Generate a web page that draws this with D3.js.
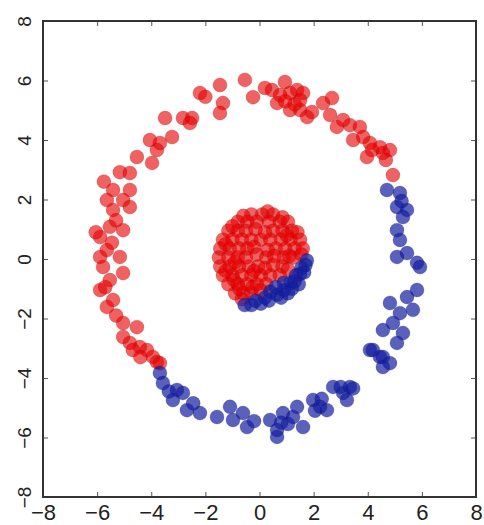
<!DOCTYPE html>
<html>
<head>
<meta charset="utf-8">
<script src="https://cdn.jsdelivr.net/npm/d3@7"></script>
<style>
body {
    margin: 0;
    background: #fff;
}
svg {
    display: block;
}
.tick text {
    font-family: "Liberation Sans", Arial, sans-serif;
    fill: #222;
}
</style>
</head>
<body>
<svg></svg>
<script>

const width = 484, height = 525;
const margin = {top: 21, right: 8, bottom: 28, left: 43};

// tick values on both axes
const xTicks = [-8, -6, -4, -2, 0, 2, 4, 6, 8];
const yTicks = [-8, -6, -4, -2, 0, 2, 4, 6, 8];

// outer ring, red part (x, y)
const redOuter = [
    [-3.79, 3.66], [-3.49, 4.74], [-3.23, 4.10], [-2.83, 4.74], [-2.49, 4.74],
    [-2.20, 5.58], [-1.46, 5.85], [-1.35, 5.24], [-1.46, 4.91], [-0.54, 6.02],
    [-0.24, 5.44], [0.46, 5.68], [0.65, 5.24], [0.94, 5.95], [1.13, 5.58],
    [1.39, 5.68], [1.61, 5.58], [1.50, 5.01], [1.13, 5.01], [1.76, 4.77],
    [2.35, 5.24], [2.68, 5.41], [2.61, 4.84], [2.86, 4.44], [3.34, 4.50],
    [3.71, 4.44], [3.83, 4.10], [3.46, 4.00], [4.08, 3.90], [4.45, 3.76],
    [4.56, 3.56], [4.82, 3.66], [3.97, 3.43], [4.93, 2.82], [0.76, 5.51],
    [1.50, 5.34], [1.94, 4.94], [3.09, 4.67], [0.20, 5.75], [4.16, 3.66],
    [4.67, 3.33], [-2.00, 5.45],
    [-2.57, 4.57], [-4.05, 4.00], [-3.68, 3.90], [-4.53, 3.43], [-3.97, 3.23],
    [-5.16, 2.92], [-4.79, 2.89], [-5.41, 2.32], [-4.79, 2.32], [-5.64, 1.98],
    [-5.04, 1.98], [-4.79, 1.75], [-5.41, 1.65], [-5.53, 1.08], [-5.89, 0.74],
    [-5.04, 0.97], [-5.64, 0.30], [-5.89, 0.07], [-5.16, 0.07], [-5.78, -0.27],
    [-5.04, -0.47], [-5.53, -0.71], [-5.89, -1.04], [-5.41, -1.38], [-5.64, -1.61],
    [-5.04, -2.15], [-4.53, -2.29], [-5.04, -2.62], [-4.79, -2.82], [-4.42, -2.96],
    [-4.16, -3.06], [-3.94, -3.29], [-3.68, -3.50], [-4.68, -3.06], [-3.79, -3.46],
    [-6.05, 0.90], [-5.75, 2.60], [-5.30, -1.90], [-4.40, -3.30],
    [-5.45, 0.55], [-5.30, 1.30], [-5.70, -0.95], [0.95, 5.30], [1.30, 5.20]
];

// outer ring, blue part
const blueOuter = [
    [-3.68, -3.83], [-3.57, -4.17], [-3.05, -4.40], [-3.20, -4.74], [-2.83, -4.50],
    [-2.68, -5.08], [-2.20, -5.18], [-1.57, -5.31], [-1.09, -4.97], [-0.98, -5.41],
    [-0.61, -5.18], [-0.46, -5.65], [0.39, -5.41], [0.65, -5.75], [0.65, -5.98],
    [0.87, -5.18], [1.24, -5.31], [1.39, -4.97], [1.61, -5.65], [1.98, -4.74],
    [2.24, -4.97], [2.49, -5.08], [2.72, -4.30], [3.09, -4.50], [3.34, -4.30],
    [3.23, -4.74], [4.08, -3.06], [4.45, -3.29], [4.56, -3.63], [3.46, -4.35],
    [-2.45, -4.85], [-0.20, -5.45], [1.05, -5.55], [2.05, -5.10], [3.00, -4.30],
    [4.71, 2.32], [5.19, 2.22], [5.08, 1.75], [5.45, 1.65], [5.30, 1.41],
    [5.08, 0.97], [5.19, 0.64], [5.08, 0.07], [5.45, 0.20], [5.82, -0.13],
    [5.93, -0.27], [5.82, -1.04], [5.45, -1.28], [4.82, -1.48], [5.19, -1.82],
    [4.93, -2.15], [5.67, -1.71], [4.56, -2.39], [5.30, -2.49], [5.08, -2.82],
    [4.19, -3.06], [4.56, -3.29], [4.82, -3.50],
    [0.80, -5.50], [2.30, -4.70], [-3.35, -4.45], [5.25, 1.95]
];

// inner disk, red part
const redInner = [
    [-0.30, 1.50], [0.10, 1.50], [0.50, 1.50],
    [-0.80, 1.25], [-0.45, 1.25], [-0.10, 1.25], [0.35, 1.25], [0.75, 1.25], [1.05, 1.25],
    [-1.15, 0.95], [-0.80, 0.95], [-0.50, 0.95], [0.50, 0.95], [0.85, 0.95], [1.20, 0.95],
    [-1.35, 0.65], [-1.00, 0.65], [-0.65, 0.65], [-0.30, 0.65], [0.05, 0.65],
    [0.40, 0.65], [0.80, 0.65], [1.15, 0.65], [1.50, 0.65],
    [-1.45, 0.35], [-1.10, 0.35], [-0.75, 0.35], [-0.45, 0.35], [0.60, 0.35],
    [0.95, 0.35], [1.30, 0.35], [1.60, 0.35],
    [-1.50, 0.05], [-1.15, 0.05], [-0.80, 0.05], [-0.50, 0.05], [0.90, 0.05], [1.25, 0.05],
    [-1.45, -0.25], [-1.10, -0.25], [-0.75, -0.25], [-0.40, -0.25], [-0.05, -0.25], [0.85, -0.25],
    [-1.35, -0.55], [-1.00, -0.55], [-0.65, -0.55], [-0.30, -0.55], [0.05, -0.55],
    [0.40, -0.55], [0.75, -0.55],
    [-1.15, -0.85], [-0.80, -0.85], [-0.45, -0.85], [-0.10, -0.85], [0.25, -0.85],
    [-0.90, -1.15], [-0.60, -1.15], [-0.30, -1.15], [-0.65, -1.35],
    [-0.20, 0.40], [0.20, 0.90], [-0.90, -0.10], [0.30, 0.30],
    [-0.60, 1.45], [0.30, 1.60], [0.85, 1.40], [-1.00, 1.10], [-0.15, 1.00],
    [1.40, 0.90], [1.00, 0.80], [-1.25, 0.50], [-0.10, 0.15], [0.25, 0.05],
    [0.55, 0.10], [1.55, 0.15], [0.50, -0.20], [-1.25, -0.40], [-0.20, -0.40],
    [0.20, -0.30], [-0.95, -0.70], [-0.25, -0.95], [-0.75, -1.00], [0.05, -1.05],
    [1.10, 0.10], [1.05, -0.35]
];

// inner disk, blue part
const blueInner = [
    [1.75, -0.05], [1.55, -0.30], [1.35, -0.55], [1.15, -0.80], [0.90, -1.05],
    [0.65, -1.20], [0.35, -1.40], [0.05, -1.50], [-0.30, -1.55], [-0.55, -1.55],
    [1.50, -0.50], [1.20, -1.00], [0.80, -1.30], [0.40, -1.10], [0.90, -0.80],
    [1.30, -0.75], [0.60, -0.95], [1.65, -0.45], [1.70, -0.20], [1.05, -1.15],
    [0.20, -1.30], [-0.15, -1.40], [1.45, -0.85]
];

const svg = d3.select("svg")
    .attr("width", width)
    .attr("height", height);

const x = d3.scaleLinear().domain([-8, 8]).range([margin.left, width - margin.right]);
const y = d3.scaleLinear().domain([-8, 8]).range([height - margin.bottom, margin.top]);

const fmt = d => d < 0 ? "\u2212" + Math.abs(d) : String(d);

// points
const points = [
    ...redOuter.map(p => ({x: p[0], y: p[1], c: "red"})),
    ...redInner.map(p => ({x: p[0], y: p[1], c: "red"})),
    ...blueOuter.map(p => ({x: p[0], y: p[1], c: "blue"})),
    ...blueInner.map(p => ({x: p[0], y: p[1], c: "blue"}))
];

const fill = {red: "rgb(230,0,0)", blue: "rgb(20,30,160)"};
const edge = {red: "rgb(140,0,0)", blue: "rgb(10,15,90)"};

svg.append("g")
    .selectAll("circle")
    .data(points)
    .join("circle")
    .attr("cx", d => x(d.x))
    .attr("cy", d => y(d.y))
    .attr("r", 7)
    .attr("fill", d => fill[d.c])
    .attr("fill-opacity", d => d.c === "red" ? 0.62 : 0.7)
    .attr("stroke", d => edge[d.c])
    .attr("stroke-opacity", 0.2)
    .attr("stroke-width", 1);

// axes, ticks pointing inward
const axisB = svg.append("g")
    .attr("transform", `translate(0,${height - margin.bottom})`)
    .call(d3.axisBottom(x).tickValues(xTicks).tickSize(-5).tickSizeOuter(0).tickPadding(7).tickFormat(fmt));
axisB.selectAll("text").style("font-size", "22px");

svg.append("g")
    .attr("transform", `translate(0,${margin.top})`)
    .call(d3.axisTop(x).tickValues(xTicks).tickSize(-5).tickSizeOuter(0).tickFormat(""));

const axisL = svg.append("g")
    .attr("transform", `translate(${margin.left},0)`)
    .call(d3.axisLeft(y).tickValues(yTicks).tickSize(-5).tickSizeOuter(0).tickFormat(fmt));
axisL.selectAll("text")
    .attr("x", null)
    .attr("dy", "0.35em")
    .attr("text-anchor", "middle")
    .attr("transform", "translate(-19,0) rotate(-90)")
    .style("font-size", "19px");

svg.append("g")
    .attr("transform", `translate(${width - margin.right},0)`)
    .call(d3.axisRight(y).tickValues(yTicks).tickSize(-5).tickSizeOuter(0).tickFormat(""));

svg.selectAll(".domain").remove();
svg.selectAll(".tick line").attr("stroke", "#555").attr("stroke-width", 1);

// frame
svg.append("rect")
    .attr("x", margin.left)
    .attr("y", margin.top)
    .attr("width", width - margin.left - margin.right)
    .attr("height", height - margin.top - margin.bottom)
    .attr("fill", "none")
    .attr("stroke", "#333")
    .attr("stroke-width", 2);

</script>
</body>
</html>
